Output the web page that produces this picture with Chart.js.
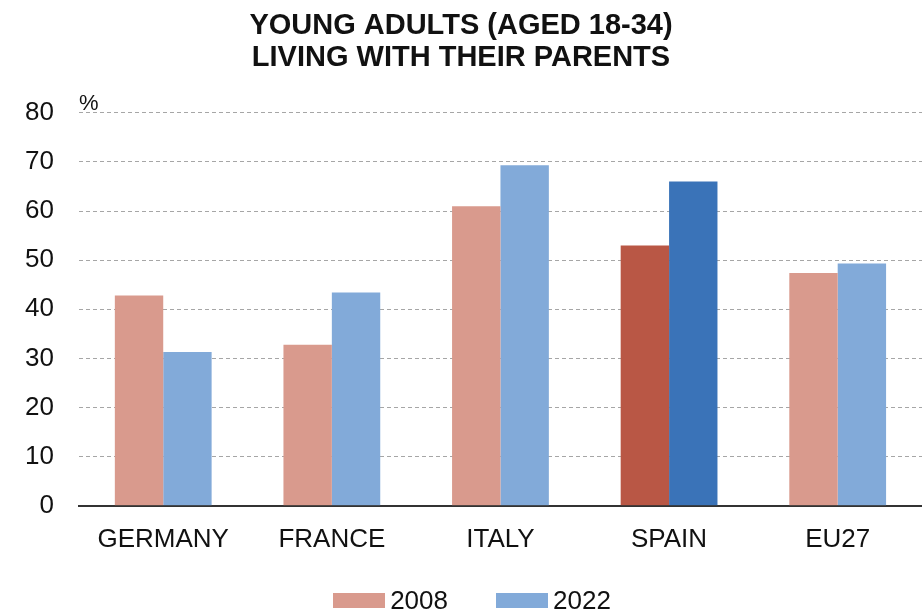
<!DOCTYPE html>
<html lang="en">
<head>
<meta charset="UTF-8">
<title>Young adults living with their parents</title>
<script src="https://cdn.jsdelivr.net/npm/chart.js@4.4.1/dist/chart.umd.min.js"></script>
<style>
  html, body { margin: 0; padding: 0; background: #fff; }
  #wrap { position: relative; width: 922px; height: 612px; }
  #legend {
    position: absolute; left: 22px; right: 0; top: 585px;
    display: flex; justify-content: center; gap: 48px;
    font: 26px "Liberation Sans", Arial, sans-serif; color: #111;
  }
  #legend span.item { display: flex; align-items: center; }
  #legend i { display: inline-block; width: 52px; height: 15px; margin-right: 5px; }
</style>
</head>
<body>
<div id="wrap">
  <canvas id="chart" width="922" height="612"></canvas>
  <div id="legend"></div>
</div>
<script>
  const countries = ['GERMANY', 'FRANCE', 'ITALY', 'SPAIN', 'EU27'];
  const share2008 = [42.8, 32.8, 61.0, 53.0, 47.4];
  const share2022 = [31.3, 43.4, 69.3, 66.0, 49.3];
  const yTicks = [0, 10, 20, 30, 40, 50, 60, 70, 80];

  const FONT = '"Liberation Sans", Arial, sans-serif';

  // Spain is highlighted with deeper shades
  const col2008 = '#D99A8D', col2022 = '#82AAD9';
  const hi2008 = '#B95745', hi2022 = '#3A73B8';
  const colours = (base, hi) => countries.map(c => c === 'SPAIN' ? hi : base);

  // "%" unit marker above the value axis
  const unitLabel = {
    id: 'unitLabel',
    afterDraw(chart) {
      const { ctx, chartArea } = chart;
      ctx.save();
      ctx.font = '22px ' + FONT;
      ctx.fillStyle = '#111';
      ctx.textBaseline = 'alphabetic';
      ctx.fillText('%', chartArea.left, chartArea.top - 3);
      ctx.restore();
    }
  };

  new Chart(document.getElementById('chart'), {
    type: 'bar',
    data: {
      labels: countries,
      datasets: [
        { label: '2008', data: share2008, backgroundColor: colours(col2008, hi2008) },
        { label: '2022', data: share2022, backgroundColor: colours(col2022, hi2022) }
      ]
    },
    options: {
      responsive: false,
      animation: false,
      layout: { padding: { left: 0, right: 0, top: 6, bottom: 47 } },
      datasets: { bar: { categoryPercentage: 0.574, barPercentage: 1 } },
      plugins: {
        legend: { display: false },
        tooltip: { enabled: false },
        title: {
          display: true,
          text: ['YOUNG ADULTS (AGED 18-34)', 'LIVING WITH THEIR PARENTS'],
          color: '#111',
          font: { family: FONT, size: 29, weight: 'bold', lineHeight: 1.1 },
          padding: { top: 4, bottom: 39 }
        }
      },
      scales: {
        x: {
          grid: { display: false },
          border: { display: true, color: '#333', width: 2 },
          ticks: { color: '#111', padding: 10, font: { family: FONT, size: 26 } }
        },
        y: {
          min: 0,
          max: 80,
          afterBuildTicks: axis => { axis.ticks = yTicks.map(v => ({ value: v })); },
          grid: { color: '#A6A6A6', lineWidth: 1, drawTicks: false },
          border: { display: false, dash: [4, 3] },
          ticks: { color: '#111', padding: 25, font: { family: FONT, size: 26 } }
        }
      }
    },
    plugins: [unitLabel]
  });

  // legend under the plot
  const legend = document.getElementById('legend');
  [['2008', col2008], ['2022', col2022]].forEach(([name, c]) => {
    const item = document.createElement('span');
    item.className = 'item';
    item.innerHTML = `<i style="background:${c}"></i>${name}`;
    legend.appendChild(item);
  });
</script>
</body>
</html>
